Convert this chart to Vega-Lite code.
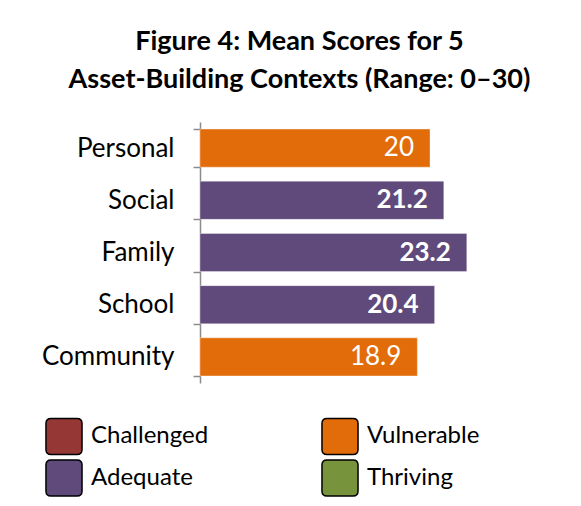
{
  "$schema": "https://vega.github.io/schema/vega-lite/v6.json",
  "width": 345,
  "height": 261,
  "autosize": "none",
  "padding": {"left": 200, "top": 122, "right": 36, "bottom": 123},
  "background": "white",
  "title": {
    "text": ["Figure 4: Mean Scores for 5", "Asset-Building Contexts (Range: 0–30)"],
    "font": "Lato",
    "fontSize": 27,
    "fontWeight": "bold",
    "color": "black",
    "lineHeight": 38,
    "anchor": "middle",
    "frame": "group",
    "dx": -73,
    "offset": 15
  },
  "data": {
    "values": [
      {"context": "Personal", "score": 20, "label": "20", "level": "Vulnerable"},
      {"context": "Social", "score": 21.2, "label": "21.2", "level": "Adequate"},
      {"context": "Family", "score": 23.2, "label": "23.2", "level": "Adequate"},
      {"context": "School", "score": 20.4, "label": "20.4", "level": "Adequate"},
      {"context": "Community", "score": 18.9, "label": "18.9", "level": "Vulnerable"}
    ]
  },
  "encoding": {
    "y": {
      "field": "context",
      "type": "nominal",
      "sort": null,
      "title": null,
      "scale": {"paddingInner": 0.27, "paddingOuter": 0.135},
      "axis": {
        "labelFont": "Lato",
        "labelFontSize": 26,
        "labelColor": "black",
        "labelPadding": 19,
        "tickBand": "extent",
        "tickSize": 7,
        "tickColor": "#8c8c8c",
        "tickWidth": 1.5,
        "domainColor": "#8c8c8c",
        "domainWidth": 1.5
      }
    },
    "x": {
      "field": "score",
      "type": "quantitative",
      "scale": {"domain": [0, 30]},
      "axis": null
    }
  },
  "layer": [
    {
      "mark": {"type": "bar", "stroke": "white", "strokeOpacity": 0.35, "strokeWidth": 1},
      "encoding": {
        "color": {
          "field": "level",
          "type": "nominal",
          "scale": {
            "domain": ["Challenged", "Adequate", "Vulnerable", "Thriving"],
            "range": ["#953735", "#604A7B", "#E36C0A", "#77933C"]
          },
          "legend": {
            "title": null,
            "orient": "none",
            "legendX": -155,
            "legendY": 295,
            "columns": 2,
            "columnPadding": 109,
            "rowPadding": -2,
            "padding": 0,
            "symbolType": "M-0.72,-1 H0.72 Q1,-1 1,-0.72 V0.72 Q1,1 0.72,1 H-0.72 Q-1,1 -1,0.72 V-0.72 Q-1,-1 -0.72,-1 Z",
            "symbolSize": 1300,
            "symbolStrokeColor": "black",
            "symbolStrokeWidth": 1.5,
            "symbolOpacity": 1,
            "labelFont": "Lato",
            "labelFontSize": 24,
            "labelColor": "black",
            "labelOffset": 8,
            "labelLimit": 300
          }
        }
      }
    },
    {
      "transform": [{"filter": "datum.level === 'Vulnerable'"}],
      "mark": {"type": "text", "align": "right", "baseline": "middle", "dx": -16, "font": "Lato", "fontSize": 26, "color": "white"},
      "encoding": {"text": {"field": "label"}}
    },
    {
      "transform": [{"filter": "datum.level === 'Adequate'"}],
      "mark": {"type": "text", "align": "right", "baseline": "middle", "dx": -16, "font": "Lato", "fontSize": 26, "fontWeight": "bold", "color": "white"},
      "encoding": {"text": {"field": "label"}}
    }
  ],
  "config": {"view": {"stroke": null}}
}
